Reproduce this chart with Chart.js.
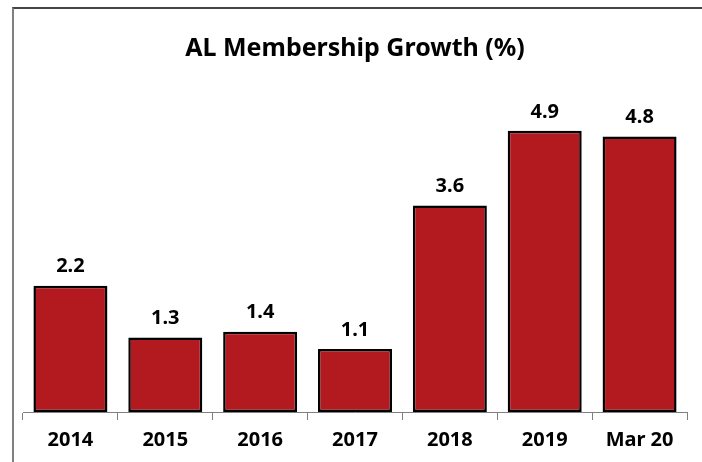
<!DOCTYPE html>
<html>
<head>
<meta charset="utf-8">
<script src="https://cdn.jsdelivr.net/npm/chart.js@4/dist/chart.umd.min.js"></script>
<style>
    body { margin: 0; background: #fff; }
    #wrap { position: relative; width: 702px; height: 462px; }
    #frame {
        position: absolute; left: 12px; top: 7px; right: -4px; bottom: -4px;
        border-left: 2px solid #808080; border-top: 2px solid #444;
    }
    canvas { position: absolute; left: 0; top: 0; }
</style>
</head>
<body>
<div id="wrap">
    <div id="frame"></div>
    <canvas id="growth-chart" width="702" height="462"></canvas>
</div>
<script>
const categories = ['2014', '2015', '2016', '2017', '2018', '2019', 'Mar 20'];
const growthValues = [2.2, 1.3, 1.4, 1.1, 3.6, 4.9, 4.8];

const fontFamily = "'Noto Sans', 'DejaVu Sans', sans-serif";

// simple value labels above each bar
const valueLabels = {
    id: 'valueLabels',
    afterDatasetsDraw(chart) {
        const ctx = chart.ctx;
        const meta = chart.getDatasetMeta(0);
        ctx.save();
        ctx.font = 'bold 20px ' + fontFamily;
        ctx.fillStyle = '#000';
        ctx.textAlign = 'center';
        ctx.textBaseline = 'bottom';
        meta.data.forEach(function (bar, i) {
            ctx.fillText(growthValues[i].toFixed(1), bar.x, bar.y - 9);
        });
        ctx.restore();
    }
};

let ctx = document.getElementById('growth-chart');
let growthChart = new Chart(ctx, {
    type: 'bar',
    data: {
        labels: categories,
        datasets: [
            {
                data: growthValues,
                backgroundColor: '#B31A1F',
                borderColor: '#000',
                borderWidth: 2.5,
                borderSkipped: false,
                categoryPercentage: 1,
                barPercentage: 0.78,
            }
        ]
    },
    options: {
        responsive: false,
        animation: false,
        plugins: {
            legend: { display: false },
            tooltip: { enabled: false },
            title: {
                display: true,
                text: 'AL Membership Growth (%)',
                color: '#000',
                font: { family: fontFamily, size: 25, weight: 'bold' },
                padding: { top: 10, bottom: 6 }
            }
        },
        scales: {
            x: {
                border: { display: true, color: '#808080', width: 1 },
                grid: {
                    display: true,
                    drawOnChartArea: false,
                    drawTicks: true,
                    tickLength: 8,
                    color: '#808080',
                    offset: true
                },
                ticks: {
                    color: '#000',
                    padding: 8,
                    font: { family: fontFamily, size: 20, weight: 'bold' }
                }
            },
            y: {
                display: false,
                min: 0,
                max: 5.96
            }
        },
        layout: {
            padding: { left: 23, right: 15, top: 24, bottom: 2 }
        }
    },
    plugins: [valueLabels]
});
</script>
</body>
</html>
